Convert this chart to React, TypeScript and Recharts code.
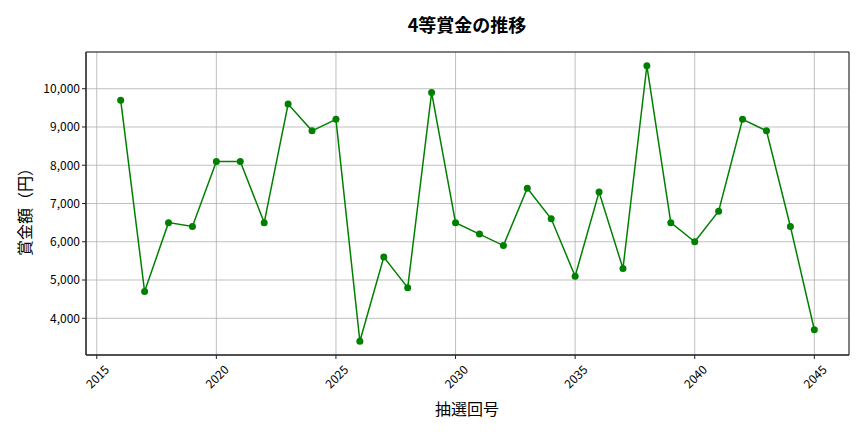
import { CartesianGrid, Line, LineChart, ReferenceArea, XAxis, YAxis } from 'recharts'

const years = [
  2016, 2017, 2018, 2019, 2020, 2021, 2022, 2023, 2024, 2025,
  2026, 2027, 2028, 2029, 2030, 2031, 2032, 2033, 2034, 2035,
  2036, 2037, 2038, 2039, 2040, 2041, 2042, 2043, 2044, 2045,
]
const prizes = [
  9700, 4700, 6500, 6400, 8100, 8100, 6500, 9600, 8900, 9200,
  3400, 5600, 4800, 9900, 6500, 6200, 5900, 7400, 6600, 5100,
  7300, 5300, 10600, 6500, 6000, 6800, 9200, 8900, 6400, 3700,
]
const xTicks = [2015, 2020, 2025, 2030, 2035, 2040, 2045]
const yTicks = [4000, 5000, 6000, 7000, 8000, 9000, 10000]

const data = years.map((year, i) => ({ year, prize: prizes[i] }))

const xDomain: [number, number] = [2014.55, 2046.45]
const yDomain: [number, number] = [3040, 10960]

const FONT = '"Noto Sans CJK JP", "Noto Sans", sans-serif'

function XTick({ x, y, payload }: any) {
  return (
    <text
      x={0}
      y={0}
      transform={`translate(${x},${y + 15}) rotate(-45)`}
      textAnchor="middle"
      dominantBaseline="central"
      fontSize={12}
      fill="#000"
      fontFamily={FONT}
    >
      {payload.value}
    </text>
  )
}

export default function App() {
  return (
    <div style={{ position: 'absolute', left: 0, top: 0, width: 864, height: 432, background: '#fff', fontFamily: FONT }}>
      <div style={{ position: 'absolute', left: 0, top: 11, width: 934, textAlign: 'center', fontSize: 18, fontWeight: 700, color: '#000' }}>
        4等賞金の推移
      </div>
      <div
        style={{
          position: 'absolute',
          left: 24,
          top: 208,
          transform: 'translate(-50%, -50%) rotate(-90deg)',
          fontSize: 16,
          whiteSpace: 'nowrap',
          color: '#000',
        }}
      >
        賞金額（円）
      </div>
      <div style={{ position: 'absolute', left: 0, top: 396, width: 934, textAlign: 'center', fontSize: 16, color: '#000' }}>
        抽選回号
      </div>
      <LineChart
        width={864}
        height={432}
        data={data}
        margin={{ top: 52, right: 15, left: 26, bottom: 27 }}
        style={{ position: 'absolute', left: 0, top: 0 }}
      >
        <CartesianGrid stroke="#b0b0b0" strokeWidth={0.8} />
        <XAxis
          dataKey="year"
          type="number"
          domain={xDomain}
          ticks={xTicks}
          allowDataOverflow
          height={50}
          tick={<XTick />}
          tickSize={4}
          stroke="#222"
          tickLine={{ stroke: '#222' }}
        />
        <YAxis
          type="number"
          domain={yDomain}
          ticks={yTicks}
          allowDataOverflow
          width={60}
          tickSize={4}
          tickFormatter={(v: number) => v.toLocaleString('en-US')}
          tick={{ fontSize: 12, fill: '#000', fontFamily: FONT }}
          stroke="#222"
        />
        <ReferenceArea
          x1={xDomain[0]}
          x2={xDomain[1]}
          y1={yDomain[0]}
          y2={yDomain[1]}
          fill="none"
          stroke="#222"
          strokeWidth={1}
          ifOverflow="visible"
        />
        <Line
          dataKey="prize"
          stroke="#008000"
          strokeWidth={1.5}
          dot={{ r: 3.5, fill: '#008000', stroke: '#008000', strokeWidth: 0 }}
          activeDot={false}
          isAnimationActive={false}
        />
      </LineChart>
    </div>
  )
}
